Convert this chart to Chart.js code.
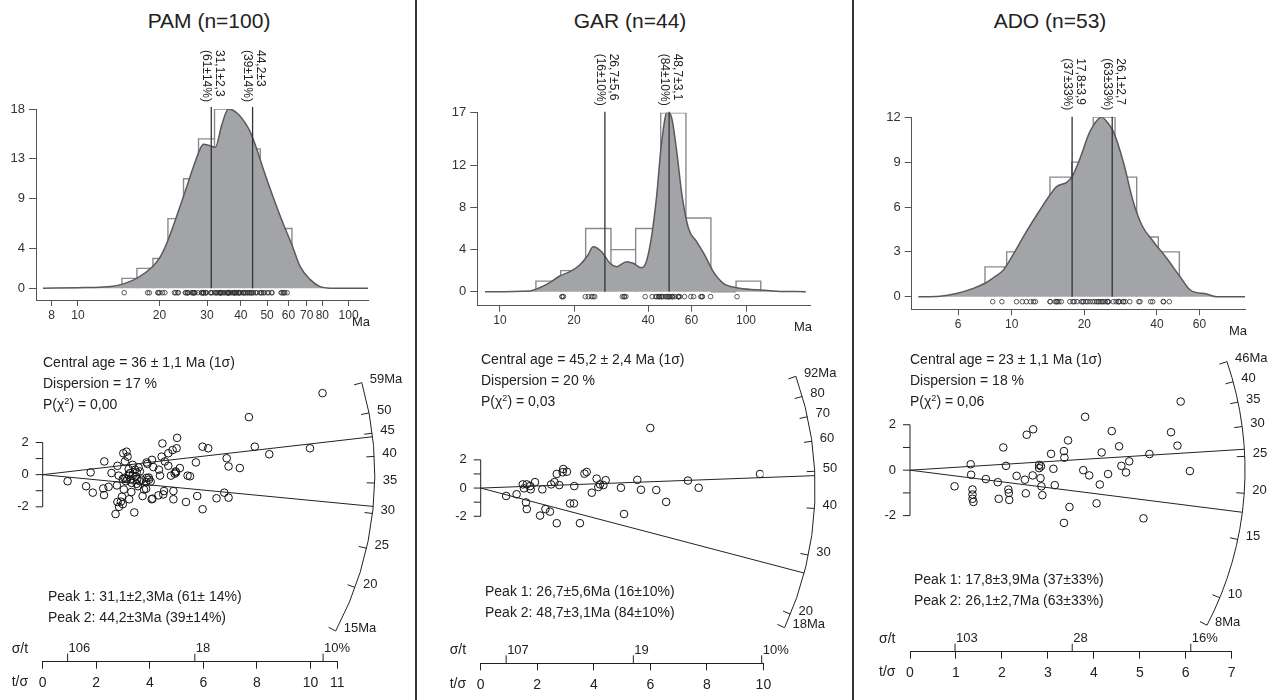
<!DOCTYPE html>
<html lang="en">
<head>
<meta charset="UTF-8">
<title>Fission-track ages: PAM, GAR, ADO</title>
<script src="https://cdn.jsdelivr.net/npm/chart.js"></script>
<style>
  body { margin: 0; background: #fff; font-family: "Liberation Sans", Arial, sans-serif; color: #222; }
  #page { position: relative; width: 1282px; height: 700px; overflow: hidden; }
  canvas { position: absolute; }
  .title { position: absolute; top: 9px; width: 300px; text-align: center; font-size: 21px; line-height: 24px; }
  .rule { position: absolute; top: 0; width: 2px; height: 700px; background: #333; }
  .note { position: absolute; font-size: 14px; line-height: 21px; white-space: nowrap; }
  .note sup { font-size: 9px; line-height: 0; vertical-align: 5px; }
</style>
</head>
<body>
<div id="page">
  <canvas id="pamHist" width="414" height="300" style="left:0;top:40px"></canvas>
  <canvas id="garHist" width="432" height="300" style="left:418px;top:40px"></canvas>
  <canvas id="adoHist" width="427" height="300" style="left:855px;top:40px"></canvas>
  <canvas id="pamRadial" width="414" height="360" style="left:0;top:340px"></canvas>
  <canvas id="garRadial" width="432" height="360" style="left:418px;top:340px"></canvas>
  <canvas id="adoRadial" width="427" height="360" style="left:855px;top:340px"></canvas>

  <div class="title" style="left:59px">PAM (n=100)</div>
  <div class="title" style="left:480px">GAR (n=44)</div>
  <div class="title" style="left:900px">ADO (n=53)</div>
  <div class="rule" style="left:415px"></div>
  <div class="rule" style="left:852px"></div>

  <div class="note" style="left:43px;top:352px">Central age = 36 ± 1,1 Ma (1σ)<br>Dispersion = 17 %<br>P(χ<sup>2</sup>) = 0,00</div>
  <div class="note" style="left:481px;top:349px">Central age = 45,2 ± 2,4 Ma (1σ)<br>Dispersion = 20 %<br>P(χ<sup>2</sup>) = 0,03</div>
  <div class="note" style="left:910px;top:349px">Central age = 23 ± 1,1 Ma (1σ)<br>Dispersion = 18 %<br>P(χ<sup>2</sup>) = 0,06</div>
  <div class="note" style="left:48px;top:586px">Peak 1: 31,1±2,3Ma (61± 14%)<br>Peak 2: 44,2±3Ma (39±14%)</div>
  <div class="note" style="left:485px;top:581px">Peak 1: 26,7±5,6Ma (16±10%)<br>Peak 2: 48,7±3,1Ma (84±10%)</div>
  <div class="note" style="left:914px;top:569px">Peak 1: 17,8±3,9Ma (37±33%)<br>Peak 2: 26,1±2,7Ma (63±33%)</div>
</div>

<script>
  // ---- PAM ----
  const pamBinEdges = [14.54, 16.52, 18.93, 21.51, 24.56, 27.90, 31.97, 36.33, 41.28, 47.18, 53.91, 61.77];
  const pamBinCounts = [1, 2, 3, 7, 11, 15, 18, 15, 14, 8, 6];
  const pamKdeAges = [7.43, 10, 12.1, 13.2, 14.5, 16.5, 18.9, 20.1, 21.5, 24.6, 26.8, 28.3, 29.1, 30.8, 32.2, 34.0, 36.0, 38.7, 41.5, 43.3, 45.9, 48.5, 52.9, 57.6, 61.8, 66.2, 72, 78.5, 86, 118];
  const pamKdeValues = [0, 0.07, 0.12, 0.18, 0.4, 1.0, 2.2, 3.1, 4.8, 9.3, 12.3, 14.0, 14.45, 14.3, 14.15, 16.4, 18.0, 17.6, 16.6, 15.7, 13.9, 11.9, 9.0, 6.36, 4.35, 2.2, 0.9, 0.17, 0.02, 0];
  const pamPeakAges = [31.1, 44.2];
  const pamPeakLabels = [['31,1±2,3', '(61±14%)'], ['44,2±3', '(39±14%)']];
  const pamAgeTicks = [8, 10, 20, 30, 40, 50, 60, 70, 80, 100];
  const pamCountTicks = [0, 4, 9, 13, 18];
  const pamPrecision = [0.93, 1.62, 1.87, 1.79, 2.30, 2.26, 2.29, 2.46, 2.57, 2.72, 2.79, 2.84, 2.79, 2.85, 2.92, 2.96, 2.99, 3.01, 3.05, 3.07,
    3.13, 3.17, 3.11, 3.23, 3.26, 3.28, 3.36, 3.32, 3.42, 3.45, 3.48, 3.53, 3.56, 3.63, 3.69, 3.73, 3.78, 3.88, 3.88, 3.97,
    4.03, 4.07, 4.08, 4.13, 4.32, 4.34, 4.38, 4.44, 4.47, 4.50, 4.53, 4.56, 4.69, 4.69, 4.79, 4.85, 4.88, 4.88, 4.96, 5.00,
    5.02, 5.12, 5.35, 5.41, 5.50, 5.72, 5.77, 5.97, 5.97, 6.18, 6.49, 6.87, 6.78, 6.94, 6.94, 7.36, 7.70, 7.92, 8.46, 9.98,
    10.45, 2.77, 2.99, 3.16, 3.21, 3.36, 3.51, 3.51, 3.58, 3.31, 3.86, 3.96, 3.91, 4.10, 3.86, 4.93, 4.98, 3.21, 3.63, 3.03];
  const pamZ = [-0.41, -0.72, -1.12, 0.14, 0.82, -0.86, -1.27, -0.76, 0.10, -2.45, 0.55, -0.06, -1.70, -2.00, -1.68, -1.37, -1.84, 1.33, -0.20, 0.82,
    1.43, 1.12, -0.41, -1.53, 0.10, -0.27, 0.61, -0.51, -2.35, 0.31, -0.10, -0.27, -0.72, 0.20, -0.31, -1.33, -0.92, 0.76, -0.20, -0.31,
    -0.43, -1.53, 0.92, 0.47, -1.29, 0.31, -0.06, 1.12, 1.94, -1.23, -1.02, 0.82, 0.55, 1.33, -0.06, 1.53, -1.53, -1.02, 0.20, 1.64,
    2.29, 0.41, -1.70, -0.06, -0.10, 0.76, -1.33, -2.15, 1.74, 1.64, -1.47, 1.02, -1.12, 0.51, -1.43, 0.41, 3.58, 1.74, 1.27, 1.64,
    5.07, -0.67, -0.27, -0.27, 0.35, -0.06, 0.14, -0.57, 0.45, -1.08, -0.47, -0.18, 0.67, -1.49, -0.88, 0.06, 0.14, 0.00, -0.41, -0.92];
  const pamRefAge = 36.5;
  const pamArcAges = [15, 20, 25, 30, 35, 40, 45, 50, 59];
  const pamArcLabels = ['15Ma', '20', '25', '30', '35', '40', '45', '50', '59Ma'];
  const pamPrecisionTicks = [0, 2, 4, 6, 8, 10, 11];
  const pamErrorTicks = [0.93, 5.68, 10.47];
  const pamErrorLabels = ['106', '18', '10%'];

  // ---- GAR ----
  const garBinEdges = [14.0, 17.65, 22.3, 28.26, 35.6, 45.0, 57.0, 72.0, 91.1, 114.8];
  const garBinCounts = [1, 2, 6, 4, 6, 17, 7, 0, 1];
  const garKdeAges = [8.7, 13.2, 14.5, 16.0, 17.5, 19.25, 21.1, 22.8, 23.9, 25.9, 28.0, 29.8, 32.7, 34.8, 37.6, 39.4, 41.3, 43.3, 45.3, 47.9,
    49.9, 52.3, 54.9, 58.4, 63.0, 67.9, 73.6, 80.9, 91.6, 110.6, 133.4, 175];
  const garKdeValues = [0, 0.07, 0.38, 0.89, 1.49, 1.9, 2.54, 3.49, 4.28, 3.8, 2.7, 2.38, 2.85, 2.7, 2.28, 2.9, 5.2, 9.0, 14.0, 17.1,
    16.5, 13.3, 9.2, 6.0, 4.75, 3.5, 1.9, 0.8, 0.38, 0.18, 0.05, 0];
  const garPeakAges = [26.7, 48.7];
  const garPeakLabels = [['26,7±5,6', '(16±10%)'], ['48,7±3,1', '(84±10%)']];
  const garAgeTicks = [10, 20, 40, 60, 100];
  const garCountTicks = [0, 4, 8, 12, 17];
  const garPrecision = [0.90, 1.27, 1.49, 1.53, 1.60, 1.63, 1.75, 1.77, 1.92, 2.10, 2.18, 2.29, 2.45, 2.49, 2.61, 2.69, 2.69, 2.78, 2.92, 3.05,
    3.16, 3.30, 3.31, 3.51, 3.67, 3.75, 3.93, 4.10, 4.16, 4.34, 4.42, 4.96, 5.07, 5.54, 5.67, 6.00, 6.21, 6.56, 7.33, 7.71,
    9.88, 2.90, 1.63, 4.22];
  const garZ = [-0.56, -0.44, 0.26, -0.02, -1.02, -1.49, 0.14, -0.09, 0.42, -1.95, -0.09, -1.49, -1.67, 0.26, 0.42, 1.00, -2.49, 0.21, 1.35, 1.16,
    -1.09, -1.09, 0.14, -2.49, 1.02, 1.14, -0.33, 0.67, 0.07, 0.21, 0.56, 0.02, -1.84, 0.58, -0.12, 4.26, -0.14, -0.98, 0.53, 0.02,
    1.00, 1.12, 0.26, 0.26];
  const garRefAge = 45.2;
  const garArcAges = [18, 20, 30, 40, 50, 60, 70, 80, 92];
  const garArcLabels = ['18Ma', '20', '30', '40', '50', '60', '70', '80', '92Ma'];
  const garPrecisionTicks = [0, 2, 4, 6, 8, 10];
  const garErrorTicks = [0.9, 5.4, 9.94];
  const garErrorLabels = ['107', '19', '10%'];

  // ---- ADO ----
  const adoBinEdges = [7.75, 9.53, 11.72, 14.41, 17.73, 21.79, 26.81, 32.97, 40.53, 49.54];
  const adoBinCounts = [2, 3, 4, 8, 9, 12, 8, 4, 3];
  const adoKdeAges = [4.1, 5.04, 5.9, 6.93, 7.75, 8.39, 9.23, 10.15, 11.5, 13.1, 14.4, 15.35, 16.9, 17.8, 19.2, 21.1, 23.6, 25.1, 26.4, 29.0,
    31.9, 34.6, 38.7, 43.9, 49.9, 55, 64.3, 70.7, 92.7];
  const adoKdeValues = [0, 0.04, 0.22, 0.56, 0.9, 1.27, 1.78, 2.83, 4.35, 5.8, 6.8, 7.36, 7.65, 8.03, 9.26, 11.04, 12.0, 11.6, 11.04, 9.03,
    6.35, 4.8, 3.68, 2.57, 1.34, 0.45, 0.18, 0, 0];
  const adoPeakAges = [17.8, 26.1];
  const adoPeakLabels = [['17,8±3,9', '(37±33%)'], ['26,1±2,7', '(63±33%)']];
  const adoAgeTicks = [6, 10, 20, 40, 60];
  const adoCountTicks = [0, 3, 6, 9, 12];
  const adoPrecision = [0.97, 1.32, 1.33, 1.36, 1.36, 1.36, 1.38, 1.65, 1.91, 1.93, 2.03, 2.09, 2.14, 2.15, 2.16, 2.32, 2.50, 2.52, 2.54, 2.68,
    2.67, 2.81, 2.81, 2.84, 2.86, 2.88, 3.07, 3.12, 3.15, 3.35, 3.36, 3.35, 3.44, 3.47, 3.81, 3.77, 3.90, 4.06, 4.13, 4.17,
    4.31, 4.39, 4.55, 4.60, 4.70, 4.77, 5.08, 5.21, 5.68, 5.82, 5.89, 6.09, 2.85];
  const adoZ = [-0.71, 0.26, -0.20, -0.85, -1.07, -1.26, -1.40, -0.39, -0.53, -1.26, 1.00, 0.19, -0.85, -1.00, -1.31, -0.25, -0.42, -1.02, 1.56, 1.80,
    -0.23, 0.23, 0.09, -0.35, -0.71, -1.10, 0.72, 0.06, -0.66, 0.84, 0.55, -2.32, 1.31, -1.62, 2.35, 0.00, -0.23, -1.46, -0.63, 0.78,
    -0.17, 1.72, 1.05, 0.19, -0.10, 0.39, -2.12, 0.71, 1.67, 1.08, 3.02, -0.04, 0.17];
  const adoRefAge = 23;
  const adoArcAges = [8, 10, 15, 20, 25, 30, 35, 40, 46];
  const adoArcLabels = ['8Ma', '10', '15', '20', '25', '30', '35', '40', '46Ma'];
  const adoPrecisionTicks = [0, 1, 2, 3, 4, 5, 6, 7];
  const adoErrorTicks = [0.98, 3.53, 6.11];
  const adoErrorLabels = ['103', '28', '16%'];

  const zTicks = [-2, -1, 0, 1, 2];
  const zLabelTicks = [-2, 0, 2];

  const FONT = '"Liberation Sans", Arial, sans-serif';
  Chart.defaults.font.family = FONT;
  Chart.defaults.color = '#222';
  Chart.defaults.animation = false;
  Chart.defaults.plugins.legend.display = false;
  Chart.defaults.plugins.tooltip.enabled = false;

  // single-grain ages recovered from the radial plot coordinates
  function grainAges(precision, z, refAge) {
    return precision.map((p, i) => refAge * Math.exp(z[i] / p));
  }

  function histDecor(h) {
    return {
      id: 'histDecor',
      afterDatasetsDraw(chart) {
        const { ctx, chartArea, scales: { x } } = chart;
        ctx.save();
        ctx.fillStyle = '#222';
        ctx.font = '12px ' + FONT;
        ctx.textAlign = 'left';
        ctx.textBaseline = 'middle';
        h.peakAges.forEach((a, i) => {
          const px = x.getPixelForValue(a);
          h.peakLabels[i].forEach((txt, j) => {
            ctx.save();
            ctx.translate(px + (j === 0 ? 8 : -5), chartArea.top - 59);
            ctx.rotate(Math.PI / 2);
            ctx.fillText(txt, 0, 0);
            ctx.restore();
          });
        });
        ctx.font = '13px ' + FONT;
        ctx.textAlign = 'right';
        ctx.fillText('Ma', chartArea.right + 2, chartArea.bottom + 22);
        ctx.restore();
      }
    };
  }

  function drawHistogram(id, h) {
    const rects = [];
    h.counts.forEach((c, i) => {
      rects.push({ x: h.edges[i], y: 0 }, { x: h.edges[i], y: c }, { x: h.edges[i + 1], y: c },
        { x: h.edges[i + 1], y: 0 }, { x: h.edges[i + 1], y: null });
    });
    const rug = grainAges(h.precision, h.z, h.refAge).map(a => ({ x: a, y: h.rugLevel }));
    const datasets = [
      { data: rug, showLine: false, pointRadius: 2.3, pointBorderWidth: 0.8, pointBorderColor: '#333',
        pointBackgroundColor: 'rgba(0,0,0,0)', order: 0 },
      ...h.peakAges.map(a => ({ data: [{ x: a, y: 0 }, { x: a, y: h.peakTop }], borderColor: '#333',
        borderWidth: 1.3, pointRadius: 0, clip: false, order: 1 })),
      { data: h.kdeAges.map((a, i) => ({ x: a, y: h.kdeValues[i] })), fill: 'origin', backgroundColor: '#a3a4a8',
        borderColor: '#5a5a5a', borderWidth: 1.5, pointRadius: 0, cubicInterpolationMode: 'monotone', order: 2 },
      { data: rects, borderColor: '#8a8a8a', borderWidth: 1.4, pointRadius: 0, fill: false, order: 3 }
    ];
    new Chart(document.getElementById(id), {
      type: 'line',
      data: { datasets },
      options: {
        responsive: false,
        devicePixelRatio: 1,
        layout: { padding: h.padding },
        scales: {
          x: {
            type: 'logarithmic', min: h.xMin, max: h.xMax,
            afterBuildTicks: s => { s.ticks = h.ageTicks.map(v => ({ value: v })); },
            afterFit: s => { s.height = h.xHeight; },
            ticks: { autoSkip: false, maxRotation: 0, padding: 2, font: { size: 12 }, color: '#333', callback: v => String(v) },
            grid: { drawOnChartArea: false, tickLength: 6, color: '#555' },
            border: { color: '#555' }
          },
          y: {
            min: h.yMin, max: h.yMax,
            afterBuildTicks: s => { s.ticks = h.countTicks.map(v => ({ value: v })); },
            afterFit: s => { s.width = h.yWidth; },
            ticks: { padding: 4, font: { size: 13 }, color: '#333' },
            grid: { drawOnChartArea: false, tickLength: 7, color: '#555' },
            border: { color: '#555' }
          }
        }
      },
      plugins: [histDecor(h)]
    });
  }

  function radialDecor(r) {
    return {
      id: 'radialDecor',
      afterDatasetsDraw(chart) {
        const { ctx, chartArea, scales: { x, y } } = chart;
        const x0 = x.getPixelForValue(0), y0 = y.getPixelForValue(0);
        const ux = x.getPixelForValue(1) - x0, uz = y0 - y.getPixelForValue(1);
        const R = r.arcRadius * ux;
        const dir = age => {
          const dz = Math.log(age / r.refAge) * uz;
          const len = Math.hypot(ux, dz);
          return [ux / len, -dz / len];
        };
        const seg = (xa, ya, xb, yb) => { ctx.beginPath(); ctx.moveTo(xa, ya); ctx.lineTo(xb, yb); ctx.stroke(); };
        ctx.save();
        ctx.strokeStyle = '#222';
        ctx.fillStyle = '#222';
        ctx.lineWidth = 1;

        // lines of the two peak ages
        r.peakAges.forEach(a => { const [dx, dy] = dir(a); seg(x0, y0, x0 + R * dx, y0 + R * dy); });

        // age arc
        const lo = dir(r.arcAges[0]), hi = dir(r.arcAges[r.arcAges.length - 1]);
        ctx.beginPath();
        ctx.arc(x0, y0, R, Math.atan2(hi[1], hi[0]), Math.atan2(lo[1], lo[0]));
        ctx.stroke();
        ctx.font = '13px ' + FONT;
        ctx.textAlign = 'left';
        ctx.textBaseline = 'middle';
        r.arcAges.forEach((a, i) => {
          const [dx, dy] = dir(a);
          const px = x0 + R * dx, py = y0 + R * dy;
          seg(px, py, px - 8 * dx, py - 8 * dy);
          ctx.fillText(r.arcLabels[i], px + 8, py - 3);
        });

        // standardised estimate axis
        seg(x0, y.getPixelForValue(2), x0, y.getPixelForValue(-2));
        zTicks.forEach(v => seg(x0 - 7, y.getPixelForValue(v), x0, y.getPixelForValue(v)));
        ctx.textAlign = 'right';
        zLabelTicks.forEach(v => ctx.fillText(String(v), x0 - 14, y.getPixelForValue(v)));

        // relative error labels above the precision axis
        const yb = chartArea.bottom;
        ctx.textAlign = 'left';
        r.errorTicks.forEach((t, i) => {
          const px = x.getPixelForValue(t);
          seg(px, yb, px, yb - 8);
          ctx.fillText(r.errorLabels[i], px + 1, yb - 13);
        });
        ctx.font = '14px ' + FONT;
        ctx.fillText('σ/t', x0 - 31, yb - 13);
        ctx.fillText('t/σ', x0 - 31, yb + 20.5);
        ctx.restore();
      }
    };
  }

  function drawRadial(id, r) {
    new Chart(document.getElementById(id), {
      type: 'scatter',
      data: {
        datasets: [{
          data: r.precision.map((p, i) => ({ x: p, y: r.z[i] })),
          pointRadius: 3.8, pointBorderWidth: 1, pointBorderColor: '#111', pointBackgroundColor: 'rgba(0,0,0,0)'
        }]
      },
      options: {
        responsive: false,
        devicePixelRatio: 1,
        layout: { padding: r.padding },
        scales: {
          x: {
            min: 0, max: r.xMax,
            afterBuildTicks: s => { s.ticks = r.precisionTicks.map(v => ({ value: v })); },
            afterFit: s => { s.height = r.xHeight; },
            ticks: { autoSkip: false, maxRotation: 0, padding: 6, font: { size: 14 }, color: '#222' },
            grid: { drawOnChartArea: false, tickLength: 7, color: '#222' },
            border: { color: '#222' }
          },
          y: { display: false, min: r.yMin, max: r.yMax }
        }
      },
      plugins: [radialDecor(r)]
    });
  }

  drawHistogram('pamHist', {
    edges: pamBinEdges, counts: pamBinCounts, kdeAges: pamKdeAges, kdeValues: pamKdeValues,
    peakAges: pamPeakAges, peakLabels: pamPeakLabels, peakTop: 18.2,
    precision: pamPrecision, z: pamZ, refAge: pamRefAge, rugLevel: -0.44,
    ageTicks: pamAgeTicks, countTicks: pamCountTicks,
    xMin: 7.0, xMax: 118, yMin: -1.17, yMax: 18,
    padding: { left: 0, top: 69, right: 46, bottom: 0 }, yWidth: 36, xHeight: 40
  });
  drawHistogram('garHist', {
    edges: garBinEdges, counts: garBinCounts, kdeAges: garKdeAges, kdeValues: garKdeValues,
    peakAges: garPeakAges, peakLabels: garPeakLabels, peakTop: 17.1,
    precision: garPrecision, z: garZ, refAge: garRefAge, rugLevel: -0.47,
    ageTicks: garAgeTicks, countTicks: garCountTicks,
    xMin: 8.09, xMax: 182, yMin: -1.33, yMax: 17,
    padding: { left: 0, top: 72.7, right: 40, bottom: 0 }, yWidth: 59.3, xHeight: 34.3
  });
  drawHistogram('adoHist', {
    edges: adoBinEdges, counts: adoBinCounts, kdeAges: adoKdeAges, kdeValues: adoKdeValues,
    peakAges: adoPeakAges, peakLabels: adoPeakLabels, peakTop: 12.04,
    precision: adoPrecision, z: adoZ, refAge: adoRefAge, rugLevel: -0.33,
    ageTicks: adoAgeTicks, countTicks: adoCountTicks,
    xMin: 3.85, xMax: 92.7, yMin: -0.84, yMax: 12,
    padding: { left: 0, top: 77.3, right: 37, bottom: 0 }, yWidth: 56.7, xHeight: 30.7
  });

  drawRadial('pamRadial', {
    precision: pamPrecision, z: pamZ, refAge: pamRefAge, peakAges: pamPeakAges,
    arcAges: pamArcAges, arcLabels: pamArcLabels, arcRadius: 12.4,
    precisionTicks: pamPrecisionTicks, errorTicks: pamErrorTicks, errorLabels: pamErrorLabels,
    xMax: 11, yMin: -11.635, yMax: 8.065,
    padding: { left: 42.7, top: 0, right: 76.7, bottom: 0 }, xHeight: 38.3
  });
  drawRadial('garRadial', {
    precision: garPrecision, z: garZ, refAge: garRefAge, peakAges: garPeakAges,
    arcAges: garArcAges, arcLabels: garArcLabels, arcRadius: 11.83,
    precisionTicks: garPrecisionTicks, errorTicks: garErrorTicks, errorLabels: garErrorLabels,
    xMax: 10, yMin: -12.42, yMax: 10.14,
    padding: { left: 62.7, top: 0, right: 86.6, bottom: 0 }, xHeight: 36.7
  });
  drawRadial('adoRadial', {
    precision: adoPrecision, z: adoZ, refAge: adoRefAge, peakAges: adoPeakAges,
    arcAges: adoArcAges, arcLabels: adoArcLabels, arcRadius: 7.29,
    precisionTicks: adoPrecisionTicks, errorTicks: adoErrorTicks, errorLabels: adoErrorLabels,
    xMax: 7, yMin: -7.99, yMax: 5.51,
    padding: { left: 55, top: 0, right: 50.3, bottom: 0 }, xHeight: 48.3
  });
</script>
</body>
</html>
